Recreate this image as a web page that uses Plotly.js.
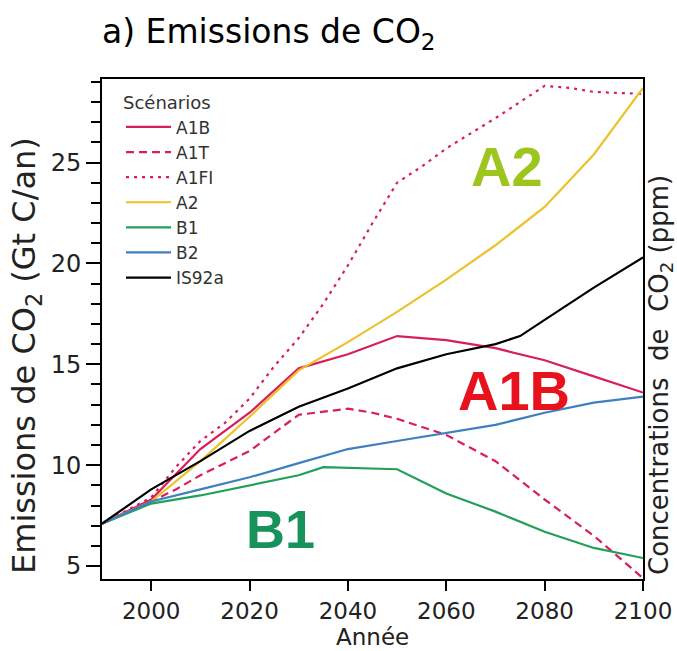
<!DOCTYPE html>
<html>
<head>
<meta charset="utf-8">
<script src="https://cdn.plot.ly/plotly-3.0.1.min.js"></script>
<style>html,body{margin:0;padding:0;background:#fff;}#chart{width:677px;height:651px;}</style>
</head>
<body>
<div id="chart"></div>
<script>
// ---- Data ----
const seriesNames = ["A1B", "A1T", "A1FI", "A2", "B1", "B2", "IS92a"];

const yearsA1B = [1990, 2000, 2010, 2020, 2030, 2040, 2050, 2060, 2070, 2080, 2090, 2100];
const valuesA1B = [7.1, 8.3, 10.8, 12.6, 14.8, 15.5, 16.4, 16.2, 15.8, 15.2, 14.4, 13.6];

const yearsA1T = [1990, 2000, 2005, 2010, 2015, 2020, 2025, 2030, 2040, 2045, 2050, 2060, 2070, 2080, 2090, 2100];
const valuesA1T = [7.1, 8.2, 8.8, 9.5, 10.1, 10.7, 11.6, 12.5, 12.8, 12.6, 12.3, 11.5, 10.2, 8.3, 6.5, 4.4];

const yearsA1FI = [1990, 2000, 2005, 2010, 2015, 2020, 2025, 2030, 2035, 2040, 2045, 2050, 2055, 2060, 2070, 2075, 2080, 2085, 2090, 2100];
const valuesA1FI = [7.1, 8.4, 9.9, 11.2, 12.1, 13.3, 14.9, 16.3, 18.0, 19.9, 22.0, 24.0, 24.8, 25.7, 27.2, 28.0, 28.8, 28.7, 28.5, 28.4];

const yearsA2 = [1990, 2000, 2010, 2020, 2030, 2040, 2050, 2060, 2070, 2080, 2090, 2100];
const valuesA2 = [7.1, 8.2, 10.2, 12.4, 14.7, 16.1, 17.6, 19.2, 20.9, 22.8, 25.4, 28.7];

const yearsB1 = [1990, 2000, 2010, 2020, 2030, 2035, 2050, 2060, 2070, 2080, 2090, 2100];
const valuesB1 = [7.1, 8.1, 8.5, 9.0, 9.5, 9.9, 9.8, 8.6, 7.7, 6.7, 5.9, 5.4];

const yearsB2 = [1990, 2000, 2010, 2020, 2030, 2040, 2050, 2060, 2070, 2080, 2090, 2100];
const valuesB2 = [7.1, 8.2, 8.8, 9.4, 10.1, 10.8, 11.2, 11.6, 12.0, 12.6, 13.1, 13.4];

const yearsIS92a = [1990, 2000, 2010, 2020, 2030, 2040, 2050, 2060, 2070, 2075, 2080, 2090, 2100];
const valuesIS92a = [7.1, 8.8, 10.2, 11.7, 12.9, 13.8, 14.8, 15.5, 16.0, 16.4, 17.2, 18.8, 20.3];

const xTickVals = [2000, 2020, 2040, 2060, 2080, 2100];
const yTickVals = [5, 10, 15, 20, 25];

// ---- Styles ----
const crimson = "#d81e5b";
const FONT = "DejaVu Sans, Arial, sans-serif";
const W = 677, H = 651;
const M = {l: 102, r: 34, t: 79, b: 72};
const PW = W - M.l - M.r, PH = H - M.t - M.b;
const px2x = p => (p - M.l) / PW;
const px2y = p => (H - M.b - p) / PH;

const styles = {
  "A1B":  {color: crimson, dash: "solid"},
  "A1T":  {color: crimson, dash: "8px,5px"},
  "A1FI": {color: crimson, dash: "3px,5px"},
  "A2":   {color: "#ecc22a", dash: "solid"},
  "B1":   {color: "#22a05a", dash: "solid"},
  "B2":   {color: "#3f7fc0", dash: "solid"},
  "IS92a":{color: "#000000", dash: "solid"}
};
const dataMap = {
  "A1B": [yearsA1B, valuesA1B],
  "A1T": [yearsA1T, valuesA1T],
  "A1FI": [yearsA1FI, valuesA1FI],
  "A2": [yearsA2, valuesA2],
  "B1": [yearsB1, valuesB1],
  "B2": [yearsB2, valuesB2],
  "IS92a": [yearsIS92a, valuesIS92a]
};

const traces = seriesNames.map(n => ({
  type: "scatter", mode: "lines", name: n,
  x: dataMap[n][0], y: dataMap[n][1],
  line: {color: styles[n].color, dash: styles[n].dash, width: 2.2}
}));

const layout = {
  width: W, height: H,
  margin: M,
  paper_bgcolor: "#fff", plot_bgcolor: "#fff",
  font: {family: FONT, color: "#222"},
  showlegend: true,
  legend: {
    x: px2x(121), y: px2y(86), xanchor: "left", yanchor: "top",
    bgcolor: "rgba(0,0,0,0)",
    font: {family: FONT, size: 17, color: "#333"},
    title: {text: "Scénarios", font: {family: FONT, size: 18, color: "#333"}},
    itemwidth: 45, tracegroupgap: 0
  },
  xaxis: {
    range: [1990, 2100], tickvals: xTickVals,
    ticks: "outside", ticklen: 10, tickwidth: 2, tickcolor: "#000",
    showline: true, linecolor: "#000", linewidth: 2, mirror: true,
    showgrid: false, zeroline: false,
    tickfont: {family: FONT, size: 23, color: "#222"}
  },
  yaxis: {
    range: [4.36, 29.14], tickvals: yTickVals,
    ticks: "outside", ticklen: 14, tickwidth: 2, tickcolor: "#000",
    minor: {dtick: 1, ticks: "outside", ticklen: 9, tickwidth: 2, tickcolor: "#000"},
    showline: true, linecolor: "#000", linewidth: 2, mirror: true,
    showgrid: false, zeroline: false,
    tickfont: {family: FONT, size: 24, color: "#222"}
  },
  annotations: [
    {xref: "paper", yref: "paper", x: px2x(100), y: px2y(34), xanchor: "left", yanchor: "middle",
     text: "a) Emissions de CO<sub>2</sub>", showarrow: false,
     font: {family: FONT, size: 33, color: "#000"}},
    {xref: "paper", yref: "paper", x: px2x(372), y: px2y(637), xanchor: "center", yanchor: "middle",
     text: "Année", showarrow: false, font: {family: FONT, size: 23, color: "#222"}},
    {xref: "paper", yref: "paper", x: px2x(26), y: px2y(356), xanchor: "center", yanchor: "middle",
     text: "Emissions de CO<sub>2</sub> (Gt C/an)", textangle: -90, showarrow: false,
     font: {family: FONT, size: 32, color: "#222"}},
    {xref: "paper", yref: "paper", x: px2x(660), y: px2y(375), xanchor: "center", yanchor: "middle",
     text: "Concentrations  de  CO<sub>2</sub> (ppm)", textangle: -90, showarrow: false,
     font: {family: FONT, size: 26, color: "#222"}},
    {xref: "paper", yref: "paper", x: px2x(507), y: px2y(166), xanchor: "center", yanchor: "middle",
     text: "<b>A2</b>", showarrow: false,
     font: {family: "Liberation Sans Narrow, Arial Narrow, Liberation Sans, sans-serif", size: 56, color: "#9cc51e"}},
    {xref: "paper", yref: "paper", x: px2x(514), y: px2y(390), xanchor: "center", yanchor: "middle",
     text: "<b>A1B</b>", showarrow: false,
     font: {family: "Liberation Sans Narrow, Arial Narrow, Liberation Sans, sans-serif", size: 56, color: "#e8121c"}},
    {xref: "paper", yref: "paper", x: px2x(280), y: px2y(529), xanchor: "center", yanchor: "middle",
     text: "<b>B1</b>", showarrow: false,
     font: {family: "Liberation Sans Narrow, Arial Narrow, Liberation Sans, sans-serif", size: 54, color: "#17925a"}}
  ]
};

Plotly.newPlot("chart", traces, layout, {displayModeBar: false, staticPlot: true});
</script>
</body>
</html>
